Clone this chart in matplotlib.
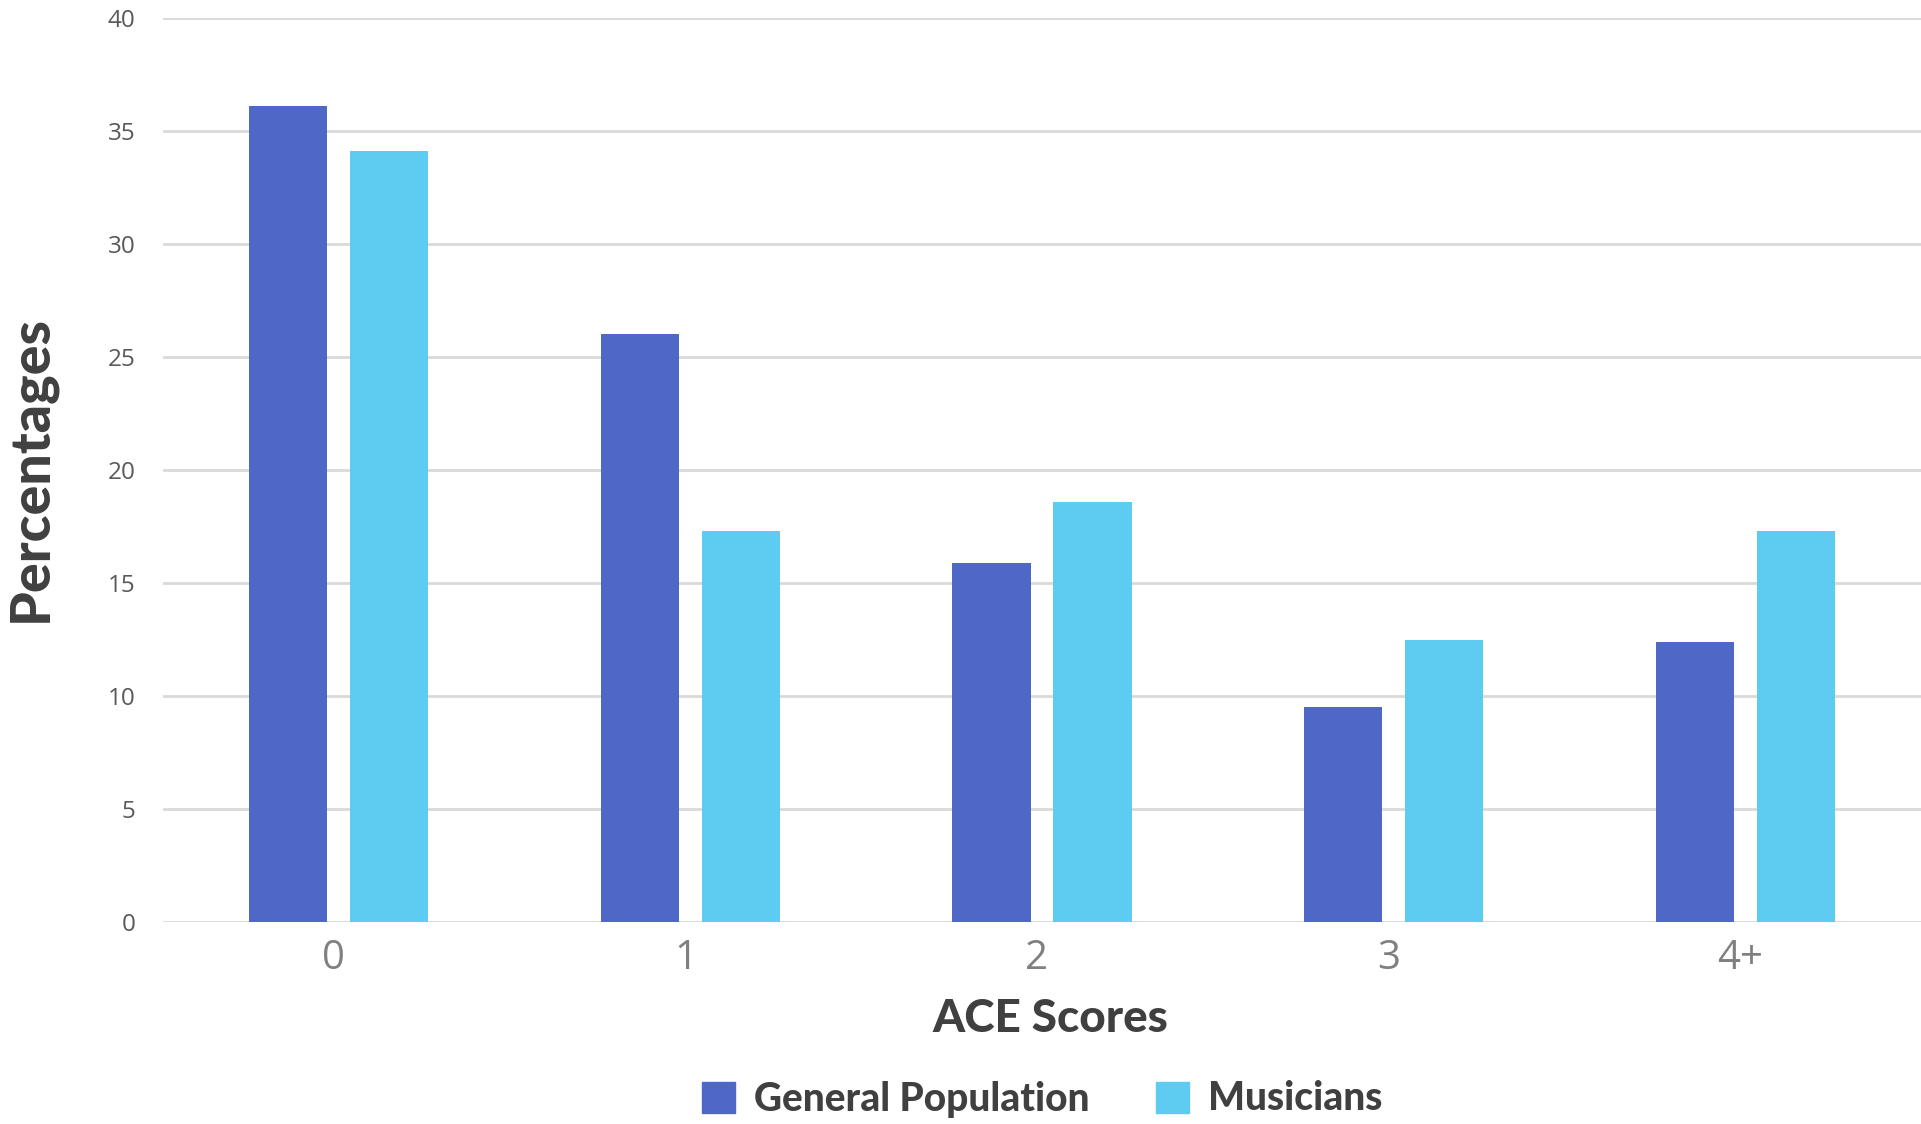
import matplotlib
matplotlib.use("Agg")
import matplotlib.pyplot as plt
import matplotlib.transforms as mtrans
import numpy as np
from matplotlib.patches import Patch

categories = ["0", "1", "2", "3", "4+"]
general_population = [36.1, 26.0, 15.9, 9.5, 12.4]
musicians = [34.1, 17.3, 18.6, 12.5, 17.3]
series_names = ["General Population", "Musicians"]
y_ticks = [0, 5, 10, 15, 20, 25, 30, 35, 40]

c_gp = "#4F67C6"
c_mu = "#5ECBF0"

fig = plt.figure(figsize=(19.21, 11.24), dpi=100)
ax = fig.add_axes([163/1921, 202/1124, 1 - 163/1921, (1106-202)/1124])

x = np.arange(len(categories))
w = 0.222
off = 0.1436
ax.bar(x - off, general_population, width=w, color=c_gp, zorder=3)
ax.bar(x + off, musicians, width=w, color=c_mu, zorder=3)

ax.set_xlim(-0.5, 4.5)
ax.set_ylim(0, 40)
ax.set_yticks(y_ticks)
ax.set_yticklabels([str(t) for t in y_ticks], fontsize=17.5, color="#595959", family="Open Sans")
ax.set_xticks(x)
ax.set_xticklabels(categories, fontsize=29, color="#808080", family="Open Sans")
ax.tick_params(axis="y", length=0, pad=20)
ax.tick_params(axis="x", length=0, pad=12)
shift = mtrans.ScaledTranslation(-5/100, 0, fig.dpi_scale_trans)
for lbl in ax.get_xticklabels():
    lbl.set_transform(lbl.get_transform() + shift)
ax.grid(axis="y", color="#D9D9D9", linewidth=2, zorder=0)
for s in ax.spines.values():
    s.set_visible(False)

fig.text(31/1921, 1 - 468/1124, "Percentages", rotation=90, ha="center", va="center",
         fontsize=40, fontweight="black", color="#404040", family="Lato")
fig.text(1050/1921, 1 - 1019/1124, "ACE Scores", ha="center", va="center",
         fontsize=33, fontweight="black", color="#404040", family="Lato")

handles = [Patch(color=c_gp), Patch(color=c_mu)]
fig.legend(handles, series_names, loc="center", bbox_to_anchor=(1042/1921, 25/1124),
           ncol=2, frameon=False, handlelength=0.85, handleheight=0.85,
           handletextpad=0.5, columnspacing=1.7,
           prop={"family": "Lato", "weight": "black", "size": 28})
for t in fig.legends[0].get_texts():
    t.set_color("#404040")

fig.savefig("out.png", dpi=100)
